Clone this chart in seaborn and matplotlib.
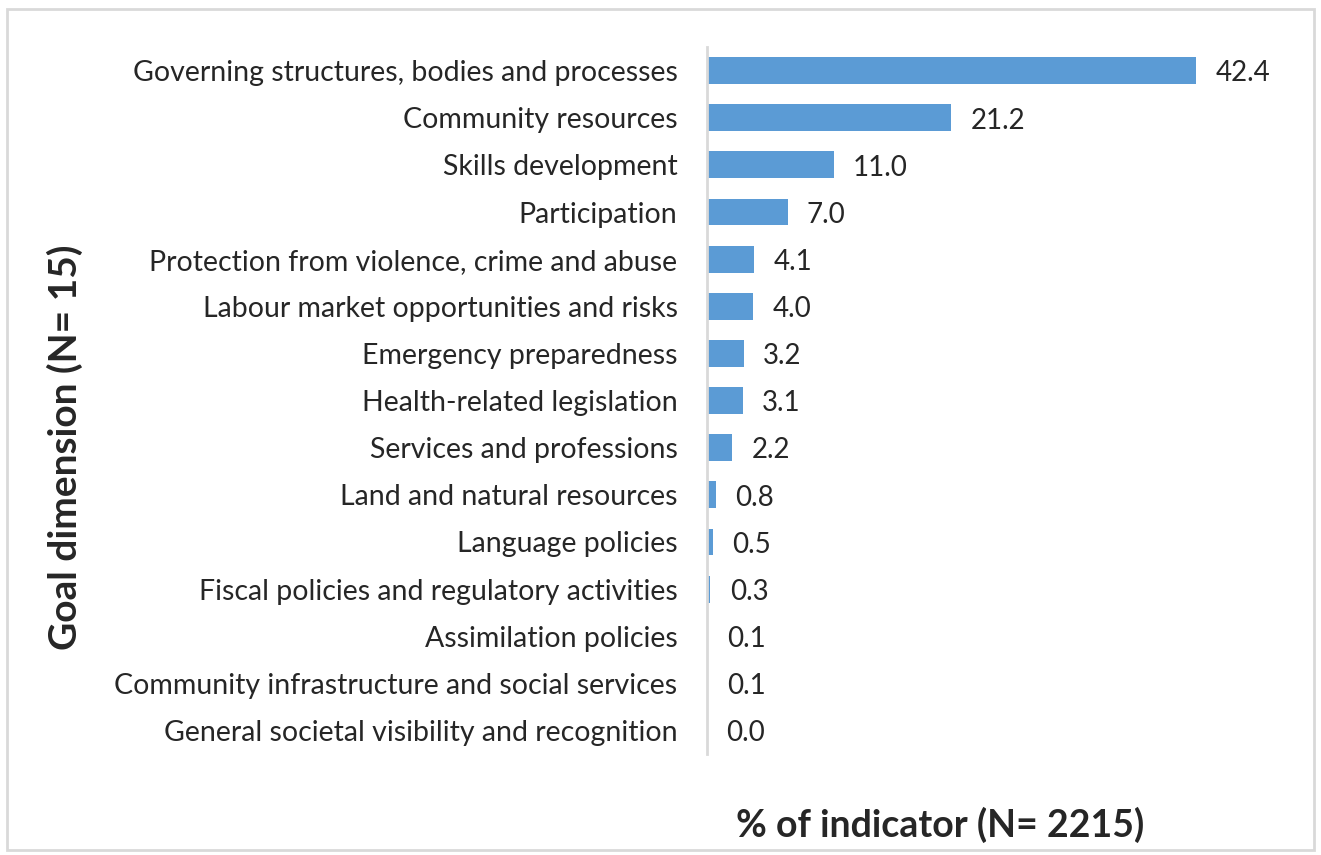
import numpy as np
import pandas as pd
import matplotlib.pyplot as plt
import seaborn as sns

# Data
dimensions = [
    'Governing structures, bodies and processes',
    'Community resources',
    'Skills development',
    'Participation',
    'Protection from violence, crime and abuse',
    'Labour market opportunities and risks',
    'Emergency preparedness',
    'Health-related legislation',
    'Services and professions',
    'Land and natural resources',
    'Language policies',
    'Fiscal policies and regulatory activities',
    'Assimilation policies',
    'Community infrastructure and social services',
    'General societal visibility and recognition',
]
percent = [42.4, 21.2, 11.0, 7.0, 4.1, 4.0, 3.2, 3.1, 2.2, 0.8, 0.5, 0.3, 0.1, 0.1, 0.0]

df = pd.DataFrame({'dimension': dimensions, 'percent': percent})

sns.set_style('white')
plt.rcParams['font.family'] = ['Lato', 'DejaVu Sans']

fig = plt.figure(figsize=(13.21, 8.55), dpi=100)
ax = fig.add_axes([0.535, 0.118, 0.442, 0.827])

sns.barplot(data=df, x='percent', y='dimension', orient='h', color='#5B9BD5',
            saturation=1, width=0.57, linewidth=0, ax=ax)

labels = ax.bar_label(ax.containers[0], fmt='%.1f', padding=14, fontsize=20)
for t in labels:
    t.set_y(-2)  # sit slightly below bar centre like the original

ax.set_xlim(0, 50.6)
ax.set_ylim(14.5, -0.5)
ax.set_xticks([])
ax.tick_params(axis='y', length=0, labelsize=20.5, pad=21)
ax.set_ylabel('')
ax.set_xlabel('')

for s in ['top', 'right', 'bottom']:
    ax.spines[s].set_visible(False)
ax.spines['left'].set_color('#d9d9d9')
ax.spines['left'].set_linewidth(2)

fig.text(0.712, 0.035, '% of indicator (N= 2215)', ha='center', va='center',
         fontsize=27, fontweight='bold')
fig.text(0.049, 0.477, 'Goal dimension (N= 15)', ha='center', va='center',
         rotation=90, fontsize=28, fontweight='bold')

# light grey frame around the whole figure
fig.patches.append(plt.Rectangle((0.005, 0.006), 0.99, 0.983, transform=fig.transFigure,
                                 fill=False, edgecolor='#d9d9d9', linewidth=2))

plt.savefig('out.png', dpi=100)
